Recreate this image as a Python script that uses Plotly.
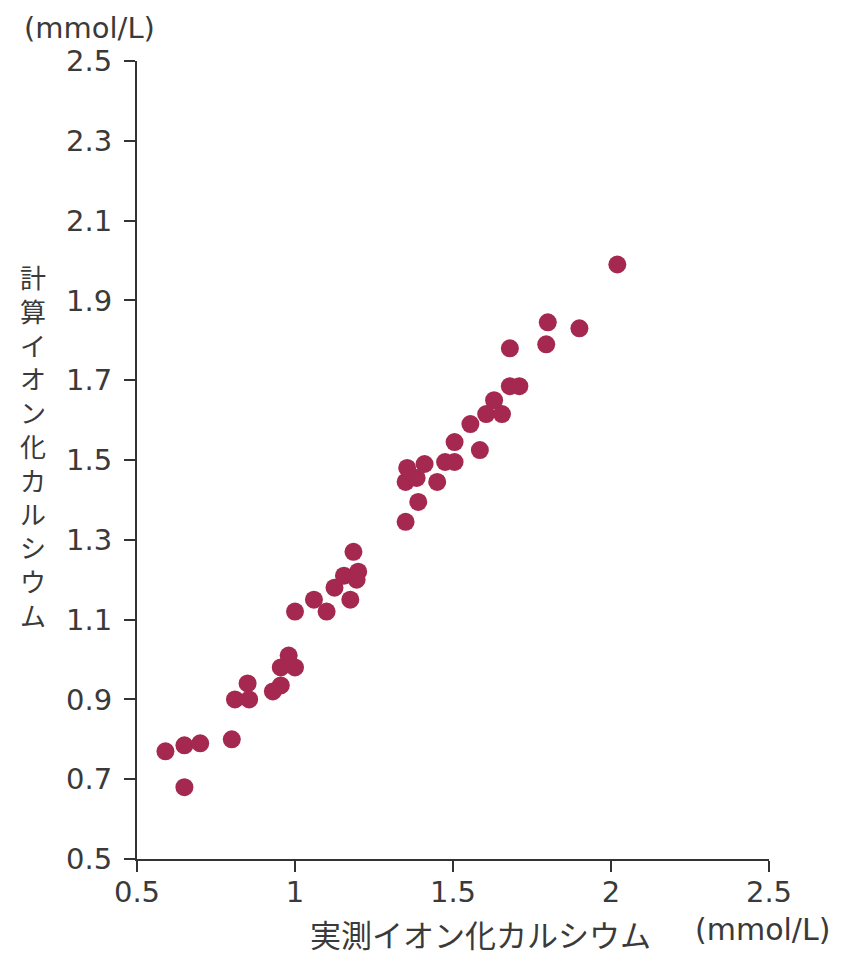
import plotly.graph_objects as go

measured = [0.59, 0.65, 0.70, 0.65, 0.80, 0.81, 0.85, 0.855, 0.93, 0.955, 0.955, 0.98, 1.00, 1.00,
            1.06, 1.10, 1.125, 1.155, 1.185, 1.20, 1.195, 1.175,
            1.35, 1.39, 1.35, 1.385, 1.355, 1.41, 1.45, 1.475, 1.505, 1.505, 1.585, 1.555,
            1.605, 1.655, 1.63, 1.68, 1.71, 1.68, 1.795, 1.80, 1.90, 2.02]
calculated = [0.77, 0.785, 0.79, 0.68, 0.80, 0.90, 0.94, 0.90, 0.92, 0.935, 0.98, 1.01, 0.98, 1.12,
              1.15, 1.12, 1.18, 1.21, 1.27, 1.22, 1.20, 1.15,
              1.345, 1.395, 1.445, 1.455, 1.48, 1.49, 1.445, 1.495, 1.495, 1.545, 1.525, 1.59,
              1.615, 1.615, 1.65, 1.685, 1.685, 1.78, 1.79, 1.845, 1.83, 1.99]

x_ticks = [0.5, 1, 1.5, 2, 2.5]
x_ticktext = ["0.5", "1", "1.5", "2", "2.5"]
y_ticks = [0.5, 0.7, 0.9, 1.1, 1.3, 1.5, 1.7, 1.9, 2.1, 2.3, 2.5]
y_ticktext = ["0.5", "0.7", "0.9", "1.1", "1.3", "1.5", "1.7", "1.9", "2.1", "2.3", "2.5"]

x_title = "実測イオン化カルシウム"
y_title = "計算イオン化カルシウム"
unit = "(mmol/L)"

# page body has an 8px margin; figure drawn at (8, 8)
OFF = 8
W, H = 844 - OFF, 957 - OFF
L, T = 137 - OFF, 61 - OFF
pw, ph = 632, 798
R, B = W - L - pw, H - T - ph

def px(xp):
    return (xp - OFF - L) / pw

def py(yp):
    return (T + ph - (yp - OFF)) / ph

text_color = "#3a3a3a"
axis_color = "#333333"
latin = "DejaVu Sans, Liberation Sans, sans-serif"
cjk = "Noto Sans CJK JP, sans-serif"

fig = go.Figure()
fig.add_trace(go.Scatter(
    x=measured, y=calculated, mode="markers",
    marker=dict(size=18, color="#a4284f", line=dict(width=0)),
    cliponaxis=False, hoverinfo="x+y"))

axis_common = dict(
    showgrid=False, zeroline=False, showline=True, linecolor=axis_color, linewidth=2,
    ticks="outside", ticklen=11, tickwidth=2, tickcolor=axis_color,
    tickfont=dict(family=latin, size=29, color=text_color),
)

fig.update_xaxes(range=[0.5, 2.5], tickvals=x_ticks, ticktext=x_ticktext,
                 ticklabelstandoff=-5, **axis_common)
fig.update_yaxes(range=[0.5, 2.5], tickvals=y_ticks, ticktext=y_ticktext,
                 ticklabelstandoff=6, **axis_common)

annotations = [
    dict(text=unit, x=px(89), y=py(28), xref="paper", yref="paper",
         xanchor="center", yanchor="middle", showarrow=False,
         font=dict(family=latin, size=29, color=text_color)),
    dict(text=unit, x=px(762), y=py(929), xref="paper", yref="paper",
         xanchor="center", yanchor="middle", showarrow=False,
         font=dict(family=latin, size=30, color=text_color)),
    dict(text=x_title, x=px(480), y=py(933), xref="paper", yref="paper",
         xanchor="center", yanchor="middle", showarrow=False,
         font=dict(family=cjk, size=31, color=text_color)),
    dict(text="<br>".join(list(y_title)), x=px(33), y=py(445), xref="paper", yref="paper",
         xanchor="center", yanchor="middle", showarrow=False,
         font=dict(family=cjk, size=26, color=text_color)),
]

fig.update_layout(
    width=W, height=H,
    margin=dict(l=L, r=R, t=T, b=B, pad=0),
    paper_bgcolor="white", plot_bgcolor="white",
    showlegend=False,
    annotations=annotations,
)

fig.write_html("out.html")
